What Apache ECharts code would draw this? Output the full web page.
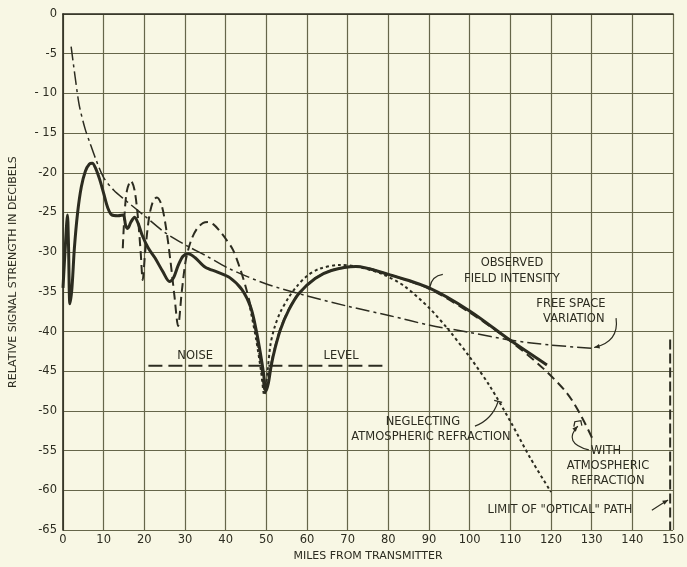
<!DOCTYPE html>
<html>
<head>
<meta charset="utf-8">
<script src="https://cdn.jsdelivr.net/npm/echarts@6/dist/echarts.min.js"></script>
<style>
  html, body { margin: 0; padding: 0; background: #f8f7e4; }
  #chart { width: 687px; height: 567px; }
</style>
</head>
<body>
<div id="chart"></div>
<script>
// Signal strength vs. distance from a transmitter (miles, dB)

const xTicks = [0, 10, 20, 30, 40, 50, 60, 70, 80, 90, 100, 110, 120, 130, 140, 150];
const yTickLabels = {
  '0': '0', '-5': '-5', '-10': '- 10', '-15': '- 15', '-20': '-20', '-25': '-25',
  '-30': '-30', '-35': '-35', '-40': '-40', '-45': '-45', '-50': '-50',
  '-55': '-55', '-60': '-60', '-65': '-65'
};

// measured field intensity
const observed = [
  [0, -34.5], [0.6, -29], [1.1, -25.3], [1.35, -29], [1.7, -36.5], [2.2, -34.5],
  [2.8, -29.5], [3.6, -25], [4.5, -21.8], [5.5, -19.8], [6.5, -18.9], [7.2, -18.8],
  [8, -19.4], [9, -20.8], [10, -22.6], [11, -24.4], [12, -25.3], [13.5, -25.4],
  [14.8, -25.3], [15.4, -26.6], [15.9, -27], [16.7, -26.2], [17.6, -25.6], [18.5, -26.4],
  [19.5, -27.9], [21, -29.5], [22.6, -30.7], [24.5, -32.4], [26.2, -33.7], [27.2, -33.2],
  [28.3, -31.7], [29.5, -30.5], [30.8, -30.2], [32.5, -30.7], [35, -31.9],
  [38, -32.5], [41, -33.2], [44, -34.7], [46.2, -37], [47.5, -39.8],
  [48.5, -42.6], [49.3, -45.2], [49.9, -47.5], [50.5, -46.5], [51.2, -44.3], [52.2, -42],
  [53.5, -39.7], [55.5, -37.3], [58, -35.2], [62, -33.3], [66, -32.3], [72, -31.8],
  [80, -32.8], [90, -34.5], [100, -37.4], [110, -41.1], [119, -44.2]
];

// theoretical, free space
const freeSpace = [
  [2, -4.1], [3, -8], [4, -11.5], [5.4, -14.4], [6.6, -16.2], [8, -18.2],
  [10, -20.6], [12.5, -22.2], [15.2, -23.4], [20, -25.4],
  [25, -27.5], [30.5, -29.2], [35, -30.4], [41, -32.1],
  [50, -34], [60, -35.5], [70, -36.8], [80.4, -38], [90.2, -39.2],
  [100, -40.1], [110.4, -41.1], [120, -41.7], [130.3, -42.1]
];

// theoretical, with atmospheric refraction
const withRefraction = [
  [14.7, -29.5], [15.1, -25.5], [15.7, -22.3], [16.7, -21], [17.6, -22.2], [18.4, -25.5],
  [19.1, -30], [19.6, -33.5], [20.2, -30], [21.2, -25.5], [22.2, -23.5], [23.1, -23.1],
  [24.2, -24], [25.3, -26.8], [26.4, -31], [27.4, -35.5], [28.3, -39.3], [29.2, -35],
  [30.2, -31], [31.5, -28.5], [33, -27], [34.5, -26.3], [35.7, -26.2], [37, -26.5],
  [38.5, -27.3], [40, -28.3], [41.8, -29.7], [43.5, -32], [45, -34.5], [46.5, -37.6],
  [47.8, -41.2], [48.8, -44.5], [49.7, -47.7], [50.4, -46], [51.2, -44], [52.2, -41.8],
  [53.5, -39.6], [55.5, -37.2], [58, -35.2], [62, -33.3], [66, -32.3], [72, -31.8],
  [80, -32.8], [90, -34.6], [100, -37.6], [110, -41.2], [118, -44.6],
  [124, -47.8], [127.5, -50.7], [130.3, -53.6]
];

// theoretical, neglecting atmospheric refraction
const neglecting = [
  [46, -37], [47.5, -41], [48.7, -45], [49.5, -48], [50.3, -45], [51, -41.7], [52, -39.5],
  [53.4, -37.6], [55.5, -35.7], [57.5, -34.3], [60, -33], [63, -32.1],
  [68, -31.6], [73, -31.9], [78.7, -32.8], [84, -34.3],
  [90, -37], [95, -39.9], [100, -43.2], [105, -46.9], [110, -51.3],
  [115, -56], [120, -60.2]
];

const noiseLevel = [[21, -44.3], [79, -44.3]];
const opticalLimit = [[149.3, -41], [149.3, -65]];

const ink = '#2c2c20';
const gridInk = '#66664a';
const font = '"DejaVu Sans", "Liberation Sans", sans-serif';

const chart = echarts.init(document.getElementById('chart'), null, { renderer: 'canvas' });

function curve(name, data, width, type, smooth) {
  return {
    name, type: 'line', data, symbol: 'none', smooth: smooth ? 0.3 : false,
    silent: true, animation: false,
    lineStyle: { color: ink, width, type, cap: 'butt', join: 'round' }
  };
}

chart.setOption({
  backgroundColor: '#f8f7e4',
  animation: false,
  grid: { left: 63, right: 14, top: 14, bottom: 30, show: false },
  xAxis: {
    type: 'value', min: 0, max: 150, interval: 10,
    name: 'MILES FROM TRANSMITTER', nameLocation: 'middle', nameGap: 18,
    nameTextStyle: { color: ink, fontFamily: font, fontSize: 11 },
    axisLine: { show: true, lineStyle: { color: ink, width: 1.6 } },
    axisTick: { show: false },
    axisLabel: { color: ink, fontFamily: font, fontSize: 11.5, margin: 4,
      formatter: v => xTicks.includes(v) ? String(v) : '' },
    splitLine: { show: true, lineStyle: { color: gridInk, width: 1.2 } }
  },
  yAxis: {
    type: 'value', min: -65, max: 0, interval: 5,
    name: 'RELATIVE SIGNAL STRENGTH IN DECIBELS', nameLocation: 'middle', nameGap: 44,
    nameRotate: 90,
    nameTextStyle: { color: ink, fontFamily: font, fontSize: 11 },
    axisLine: { show: true, lineStyle: { color: ink, width: 1.6 } },
    axisTick: { show: false },
    axisLabel: { color: ink, fontFamily: font, fontSize: 11.5, margin: 6,
      formatter: v => yTickLabels[String(v)] ?? '' },
    splitLine: { show: true, lineStyle: { color: gridInk, width: 1.2 } }
  },
  series: [
    curve('Free space variation', freeSpace, 1.5, [14, 4, 3, 4], true),
    curve('Neglecting atmospheric refraction', neglecting, 2, [3, 3], true),
    curve('With atmospheric refraction', withRefraction, 2, [9, 5], true),
    curve('Observed field intensity', observed, 3, 'solid', true),
    curve('Noise level', noiseLevel, 2, [14, 6], false),
    curve('Limit of optical path', opticalLimit, 2, [10, 4], false)
  ]
});

// annotations anchored to data coordinates
function P(x, y) { return chart.convertToPixel({ gridIndex: 0 }, [x, y]); }

function label(text, x, y) {
  const p = P(x, y);
  return { type: 'text', x: p[0], y: p[1], silent: true,
    style: { text, fill: ink, font: '11.5px ' + font, textAlign: 'center', textVerticalAlign: 'middle' } };
}

function leader(a, c, b) {
  const p1 = P(a[0], a[1]), cp = P(c[0], c[1]), p2 = P(b[0], b[1]);
  return { type: 'bezierCurve', silent: true,
    shape: { x1: p1[0], y1: p1[1], x2: p2[0], y2: p2[1], cpx1: cp[0], cpy1: cp[1] },
    style: { stroke: ink, lineWidth: 1.2, fill: null } };
}

function arrowHead(c, b, size) {
  const cp = P(c[0], c[1]), p = P(b[0], b[1]);
  const ang = Math.atan2(p[1] - cp[1], p[0] - cp[0]);
  const s = size || 6;
  const pts = [
    p,
    [p[0] - s * Math.cos(ang - 0.4), p[1] - s * Math.sin(ang - 0.4)],
    [p[0] - s * Math.cos(ang + 0.4), p[1] - s * Math.sin(ang + 0.4)]
  ];
  return { type: 'polygon', silent: true, shape: { points: pts }, style: { fill: ink } };
}

const notes = [
  label('NOISE', 32.5, -43.1),
  label('LEVEL', 68.4, -43.1),
  label('OBSERVED', 110.4, -31.4),
  label('FIELD INTENSITY', 110.4, -33.4),
  label('FREE SPACE', 124.9, -36.5),
  label('VARIATION', 125.6, -38.4),
  label('NEGLECTING', 88.5, -51.4),
  label('ATMOSPHERIC REFRACTION', 90.5, -53.3),
  label('WITH', 133.5, -55),
  label('ATMOSPHERIC', 134, -56.9),
  label('REFRACTION', 134, -58.8),
  label('LIMIT OF "OPTICAL" PATH', 122.2, -62.5)
];

const leaders = [
  [[93.4, -32.8], [90.7, -33.0], [90.2, -34.4]],
  [[136.0, -38.3], [136.8, -41.3], [130.6, -42.0]],
  [[101.3, -51.9], [105.5, -51.1], [107.0, -48.8]],
  [[129.3, -54.9], [122.8, -54.0], [126.6, -51.9]],
  [[144.8, -62.5], [146.8, -61.8], [148.8, -61.2]]
];

const marks = [];
leaders.forEach(([a, c, b], i) => {
  marks.push(leader(a, c, b));
  if (i === 1 || i === 3 || i === 4) marks.push(arrowHead(c, b, 6));
});

// small tick where the neglecting-refraction leader meets its curve,
// and the bracket on the refraction curve
(function () {
  const p = P(107.0, -48.8);
  marks.push({ type: 'line', silent: true,
    shape: { x1: p[0] - 4, y1: p[1] - 1, x2: p[0] + 4, y2: p[1] + 1 },
    style: { stroke: ink, lineWidth: 1.3 } });
  const q = P(126.6, -51.6);
  marks.push({ type: 'polyline', silent: true,
    shape: { points: [[q[0] - 4, q[1] + 3], [q[0] - 3, q[1] - 2], [q[0] + 3, q[1] - 3], [q[0] + 4, q[1] + 2]] },
    style: { stroke: ink, lineWidth: 1.3, fill: null } });
})();

chart.setOption({ graphic: { elements: marks.concat(notes) } });
</script>
</body>
</html>
